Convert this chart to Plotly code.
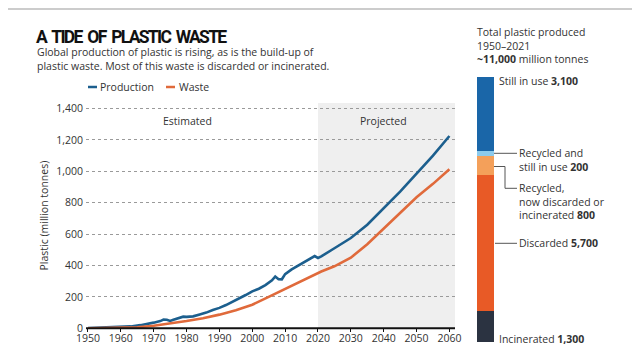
import plotly.graph_objects as go

# ---- data ----
prod_years = [1950, 1955, 1960, 1963, 1966, 1968, 1970, 1972, 1973, 1974, 1975, 1976, 1978, 1979,
              1980, 1982, 1984, 1986, 1988, 1990, 1992, 1994, 1996, 1998, 2000, 2002, 2004, 2006,
              2007, 2008, 2009, 2010, 2012, 2014, 2016, 2018, 2019, 2020, 2021,
              2025, 2030, 2035, 2040, 2045, 2050, 2055, 2060]
production = [2, 4, 8, 12, 20, 27, 36, 46, 55, 54, 47, 54, 65, 74,
              73, 76, 88, 100, 117, 130, 148, 168, 190, 212, 235, 252, 275, 305,
              330, 313, 312, 345, 375, 400, 424, 445, 460, 448, 458,
              510, 575, 660, 765, 870, 985, 1100, 1225]
waste_years = [1950, 1960, 1965, 1970, 1975, 1980, 1985, 1990, 1995, 2000, 2005, 2010, 2015, 2020, 2021,
               2025, 2030, 2035, 2040, 2045, 2050, 2055, 2060]
waste = [0, 3, 7, 16, 30, 46, 64, 87, 115, 150, 200, 250, 305, 355, 362,
         395, 450, 535, 635, 730, 835, 920, 1013]

x_ticks = [1950, 1960, 1970, 1980, 1990, 2000, 2010, 2020, 2030, 2040, 2050, 2060]
y_ticks = [0, 200, 400, 600, 800, 1000, 1200, 1400]
y_tick_labels = ["0", "200", "400", "600", "800", "1,000", "1,200", "1,400"]

fate_labels = ["Incinerated", "Discarded", "Recycled, now discarded or incinerated",
               "Recycled and still in use", "Still in use"]
fate_values = [1300, 5700, 800, 200, 3100]
fate_colors = ["#2b3341", "#e85a26", "#f4a05a", "#8ccbed", "#1a66a8"]

# page has an 8px body margin: figure is 624x344, placed at (8, 8)
OFF = 8
W, H = 624, 344
FONT = "Open Sans"
TXT = "#333333"

def px(x):
    return (x - OFF) / W

def py(y):
    return 1 - (y - OFF) / H

fig = go.Figure()

fig.add_trace(go.Scatter(x=prod_years, y=production, mode="lines", name="Production",
                         line=dict(color="#1c5f8e", width=2.6), xaxis="x", yaxis="y"))
fig.add_trace(go.Scatter(x=waste_years, y=waste, mode="lines", name="Waste",
                         line=dict(color="#e06a3b", width=2.6), xaxis="x", yaxis="y"))

for lab, val, col in zip(fate_labels, fate_values, fate_colors):
    fig.add_trace(go.Bar(x=[0], y=[val], name=lab, marker=dict(color=col, line=dict(width=0)),
                         width=1, xaxis="x2", yaxis="y2"))

x0, x1 = 1949.4, 2061.7
fig.update_layout(
    width=W, height=H,
    margin=dict(l=0, r=0, t=0, b=0),
    paper_bgcolor="white", plot_bgcolor="white",
    showlegend=False, barmode="stack",
    font=dict(family=FONT, color=TXT, size=11),
    xaxis=dict(domain=[px(86), px(455)], range=[x0, x1], tickvals=x_ticks,
               showgrid=False, zeroline=False, showline=False,
               ticks="outside", ticklen=3, tickwidth=1, tickcolor="#111",
               ticklabelstandoff=-3,
               tickfont=dict(size=10.5, color="#333"), automargin=False),
    yaxis=dict(domain=[py(328.3), py(103)], range=[0, 1435], tickvals=y_ticks,
               ticktext=y_tick_labels, showgrid=True, gridcolor="#9a9a9a", griddash="dot",
               gridwidth=1, zeroline=False, showline=False, ticks="",
               ticklabelstandoff=2,
               tickfont=dict(size=10.5, color="#333"), automargin=False,
               title=dict(text="Plastic (million tonnes)", font=dict(size=10.5, color="#333"),
                          standoff=5)),
    xaxis2=dict(domain=[px(477), px(494)], range=[-0.5, 0.5], visible=False, fixedrange=True),
    yaxis2=dict(domain=[py(342), py(77)], range=[0, sum(fate_values)], visible=False,
                anchor="x2"),
)

shapes = []
shapes.append(dict(type="rect", xref="x", yref="y domain", x0=2020, x1=x1, y0=0, y1=1,
                   fillcolor="#efefef", line=dict(width=0), layer="below"))
shapes.append(dict(type="line", xref="paper", yref="paper", x0=px(86), x1=px(455),
                   y0=py(328.3), y1=py(328.3), line=dict(color="#111", width=2)))
shapes.append(dict(type="line", xref="paper", yref="paper", x0=px(8), x1=px(632),
                   y0=py(9), y1=py(9), line=dict(color="#999", width=1)))
shapes.append(dict(type="line", xref="paper", yref="paper", x0=px(88), x1=px(97),
                   y0=py(87), y1=py(87), line=dict(color="#1c5f8e", width=2.5)))
shapes.append(dict(type="line", xref="paper", yref="paper", x0=px(166), x1=px(175),
                   y0=py(87), y1=py(87), line=dict(color="#e06a3b", width=2.5)))
conn = dict(color="#555", width=1)
shapes.append(dict(type="line", xref="paper", yref="paper", x0=px(494), x1=px(517),
                   y0=py(153.3), y1=py(153.3), line=conn))
shapes.append(dict(type="path", xref="paper", yref="paper",
                   path=f"M {px(494)} {py(166.5)} L {px(505)} {py(166.5)} L {px(505)} {py(188.3)} L {px(517)} {py(188.3)}",
                   line=conn))
shapes.append(dict(type="line", xref="paper", yref="paper", x0=px(495), x1=px(517),
                   y0=py(243.3), y1=py(243.3), line=conn))
fig.update_layout(shapes=shapes)

ann = []
def text(x, y, s, size=10.5, color=TXT, family=FONT, xanchor="left", yanchor="middle"):
    ann.append(dict(xref="paper", yref="paper", x=px(x), y=py(y), text=s, showarrow=False,
                    xanchor=xanchor, yanchor=yanchor, align="left", borderpad=0,
                    font=dict(size=size, color=color, family=family)))

text(35, 36.5, "<span style='letter-spacing:-1.7px;word-spacing:3px'><b>A TIDE OF PLASTIC WASTE</b></span>",
     size=17.5, color="#111", family="Roboto")
text(36, 59.5, "Global production of plastic is rising, as is the build-up of<br>"
               "plastic waste. Most of this waste is discarded or incinerated.")
text(99, 87, "Production")
text(178, 87, "Waste")
text(188, 121, "Estimated", xanchor="center")
text(383, 121, "Projected", xanchor="center")

text(476, 45.5, "Total plastic produced<br>1950–2021<br><b>~11,000</b> million tonnes")
text(498, 81, "Still in use <b>3,100</b>")
text(518, 159.5, "Recycled and<br>still in use <b>200</b>")
text(518, 201.5, "Recycled,<br>now discarded or<br>incinerated <b>800</b>")
text(518, 243, "Discarded <b>5,700</b>")
text(498, 339, "Incinerated <b>1,300</b>")
fig.update_layout(annotations=ann)

fig.write_html("out.html")
